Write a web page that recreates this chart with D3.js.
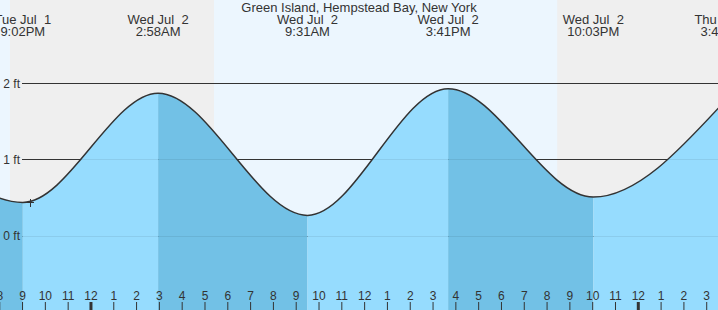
<!DOCTYPE html>
<html>
<head>
<meta charset="utf-8">
<script src="https://cdn.jsdelivr.net/npm/d3@7"></script>
<style>
    body { margin: 0; background: #fff; }
    svg { display: block; font-family: "Liberation Sans", Arial, sans-serif; }
</style>
</head>
<body>
<div id="chart"></div>
<script>
const title = "Green Island, Hempstead Bay, New York"

// high / low tide events (first and last are off the visible range)
const tideTimes = [
    "2025-07-01T14:40",
    "2025-07-01T21:02",
    "2025-07-02T02:58",
    "2025-07-02T09:31",
    "2025-07-02T15:41",
    "2025-07-02T22:03",
    "2025-07-03T03:44",
]
const tideHeights = [1.95, 0.44, 1.87, 0.27, 1.93, 0.51, 1.74]

const sunriseTimes = ["2025-07-01T05:24", "2025-07-02T05:25"]
const sunsetTimes = ["2025-07-01T20:28", "2025-07-02T20:28"]

const yTicks = [0, 1, 2]
const timeDomain = ["2025-07-01T20:02", "2025-07-03T03:31"]
const markerTime = "2025-07-01T21:21"

const width = 718
const height = 310

const parse = d3.timeParse("%Y-%m-%dT%H:%M")
const data = tideTimes.map((t, i) => ({t: parse(t), h: tideHeights[i]}))

const x = d3.scaleTime(timeDomain.map(parse), [0, width])
const y = d3.scaleLinear([0, 2], [236, 83.3])

const svg = d3.select("#chart").append("svg")
    .attr("width", width)
    .attr("height", height)
    .attr("viewBox", [0, 0, width, height])

// night background, then daylight bands
svg.append("rect")
    .attr("width", width)
    .attr("height", height)
    .attr("fill", "#efefef")

svg.append("g")
    .selectAll("rect")
    .data(d3.range(sunriseTimes.length))
    .join("rect")
    .attr("x", i => x(parse(sunriseTimes[i])))
    .attr("width", i => x(parse(sunsetTimes[i])) - x(parse(sunriseTimes[i])))
    .attr("y", 0)
    .attr("height", height)
    .attr("fill", "#ecf6fe")

// grid lines
svg.append("g")
    .selectAll("line")
    .data(yTicks)
    .join("line")
    .attr("x1", 22)
    .attr("x2", width)
    .attr("y1", d => y(d))
    .attr("y2", d => y(d))
    .attr("stroke", "#333")
    .attr("stroke-width", 1)
    .attr("shape-rendering", "crispEdges")

// water
const area = d3.area()
    .x(d => x(d.t))
    .y0(height)
    .y1(d => y(d.h))
    .curve(d3.curveMonotoneX)

const line = d3.line()
    .x(d => x(d.t))
    .y(d => y(d.h))
    .curve(d3.curveMonotoneX)

svg.append("clipPath")
    .attr("id", "water")
    .append("path")
    .attr("d", area(data))

// rising tide light, falling tide darker
svg.append("g")
    .attr("clip-path", "url(#water)")
    .selectAll("rect")
    .data(d3.range(data.length - 1))
    .join("rect")
    .attr("x", i => x(data[i].t))
    .attr("width", i => x(data[i + 1].t) - x(data[i].t))
    .attr("y", 0)
    .attr("height", height)
    .attr("fill", i => data[i].h > data[i + 1].h ? "#72c1e6" : "#96dcfe")

// grid lines show faintly through the water
svg.append("g")
    .attr("clip-path", "url(#water)")
    .selectAll("line")
    .data(yTicks)
    .join("line")
    .attr("x1", 22)
    .attr("x2", width)
    .attr("y1", d => y(d))
    .attr("y2", d => y(d))
    .attr("stroke", "#000")
    .attr("stroke-opacity", 0.07)
    .attr("shape-rendering", "crispEdges")

svg.append("path")
    .attr("d", line(data))
    .attr("fill", "none")
    .attr("stroke", "#333")
    .attr("stroke-width", 1.5)

// current time marker
const mx = x(parse(markerTime))
const my = 202.7
svg.append("path")
    .attr("d", `M${mx - 3.5},${my}H${mx + 3.5}M${mx},${my - 4}V${my + 4}`)
    .attr("stroke", "#333")
    .attr("stroke-width", 1)
    .attr("shape-rendering", "crispEdges")

// y labels
svg.append("g")
    .selectAll("text")
    .data(yTicks)
    .join("text")
    .attr("x", 20)
    .attr("y", d => y(d))
    .attr("dy", "0.35em")
    .attr("text-anchor", "end")
    .attr("font-size", 12)
    .attr("fill", "#333")
    .text(d => `${d} ft`)

// hour axis, starting at the hour just before the left edge
const hours = d3.timeHour.range(d3.timeHour.floor(x.domain()[0]), x.domain()[1])
const xAxis = d3.axisTop(x)
    .tickValues(hours)
    .tickSize(8)
    .tickPadding(2)
    .tickFormat(d3.timeFormat("%-I"))

svg.append("g")
    .attr("transform", `translate(0,${height})`)
    .call(xAxis)
    .call(g => g.select(".domain").remove())
    .call(g => g.selectAll(".tick line")
        .attr("stroke", "#333")
        .attr("stroke-width", d => d.getHours() === 0 ? 3 : 1))
    .call(g => g.selectAll(".tick text")
        .attr("fill", "#333")
        .attr("font-size", 12)
        .attr("font-family", "Liberation Sans, Arial, sans-serif"))

// title and event labels
svg.append("text")
    .attr("x", width / 2)
    .attr("y", 12)
    .attr("text-anchor", "middle")
    .attr("font-size", 13)
    .attr("fill", "#333")
    .text(title)

// %e pads the day with a space; keep it with a no-break space
const fmtDay = d => d3.timeFormat("%a %b %e")(d).replace(/ (?= )/g, "\u00a0")
const fmtTime = d3.timeFormat("%-I:%M%p")

const labels = svg.append("g")
    .attr("font-size", 13)
    .attr("fill", "#333")
    .attr("text-anchor", "middle")
    .selectAll("text")
    .data(data.filter(d => x(d.t) > -60 && x(d.t) < width + 60))
    .join("text")
    .attr("x", d => x(d.t))

labels.append("tspan")
    .attr("x", d => x(d.t))
    .attr("y", 24)
    .text(d => fmtDay(d.t))

labels.append("tspan")
    .attr("x", d => x(d.t))
    .attr("y", 36)
    .text(d => fmtTime(d.t))
</script>
</body>
</html>
